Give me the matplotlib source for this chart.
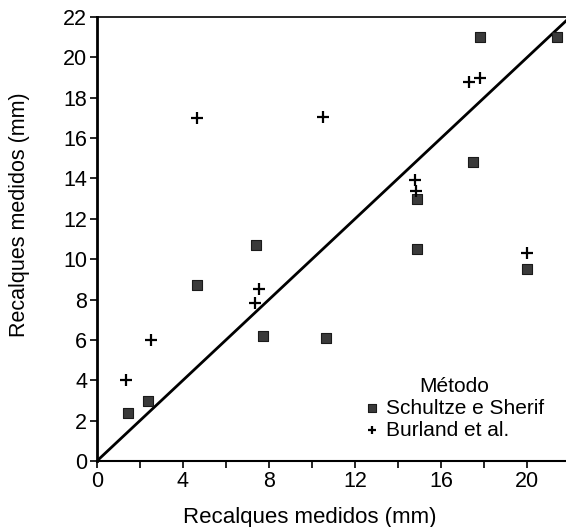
import numpy as np
import matplotlib
matplotlib.use('Agg')
import matplotlib.pyplot as plt
from matplotlib.ticker import MultipleLocator

plt.rcParams['font.family'] = ['Liberation Sans', 'DejaVu Sans']

# Schultze e Sherif
ss_x = [1.45, 2.4, 4.65, 7.7, 7.4, 10.65, 14.9, 14.9, 17.5, 17.8, 21.4, 20.0]
ss_y = [2.4, 3.0, 8.7, 6.2, 10.7, 6.1, 10.5, 13.0, 14.8, 21.0, 21.0, 9.5]

# Burland et al.
bu_x = [1.35, 2.5, 7.35, 7.55, 4.65, 10.5, 14.8, 14.85, 17.3, 17.8, 20.0]
bu_y = [4.0, 6.0, 7.85, 8.5, 17.0, 17.05, 13.9, 13.4, 18.75, 18.95, 10.3]

fig = plt.figure(figsize=(5.66, 5.27), dpi=100)
ax = fig.add_axes([0.171, 0.125, 0.829, 0.843])

ax.plot([0, 22], [0, 22], color='black', lw=2)
ax.scatter(ss_x, ss_y, marker='s', s=50, color='#3a3a3a', edgecolors='#1a1a1a',
           linewidths=0.8, label='Schultze e Sherif', zorder=3)
ax.scatter(bu_x, bu_y, marker='+', s=70, color='black', linewidths=1.6,
           label='Burland et al.', zorder=3)

ax.set_xlim(0, 21.8)
ax.set_ylim(0, 22)
ax.xaxis.set_major_locator(MultipleLocator(4))
ax.xaxis.set_minor_locator(MultipleLocator(2))
ax.yaxis.set_major_locator(MultipleLocator(2))
ax.tick_params(axis='both', which='both', direction='out', labelsize=15.5,
               width=1.2, length=5, pad=2)

ax.spines['right'].set_visible(False)
ax.spines['left'].set_linewidth(2)
ax.spines['bottom'].set_linewidth(1.5)
ax.spines['top'].set_linewidth(1.2)

ax.set_xlabel('Recalques medidos (mm)', fontsize=16)
ax.set_ylabel('Recalques medidos (mm)', fontsize=15.5)
ax.xaxis.set_label_coords(0.454, -0.104)
ax.yaxis.set_label_coords(-0.143, 0.554)

leg = ax.legend(title='Método', loc='lower right', bbox_to_anchor=(0.985, 0.015),
                frameon=False, fontsize=15, title_fontsize=15, markerscale=0.75,
                handletextpad=0.3, handlelength=0.8, borderaxespad=0.3,
                labelspacing=0.15)

fig.savefig('out.png', dpi=100)
